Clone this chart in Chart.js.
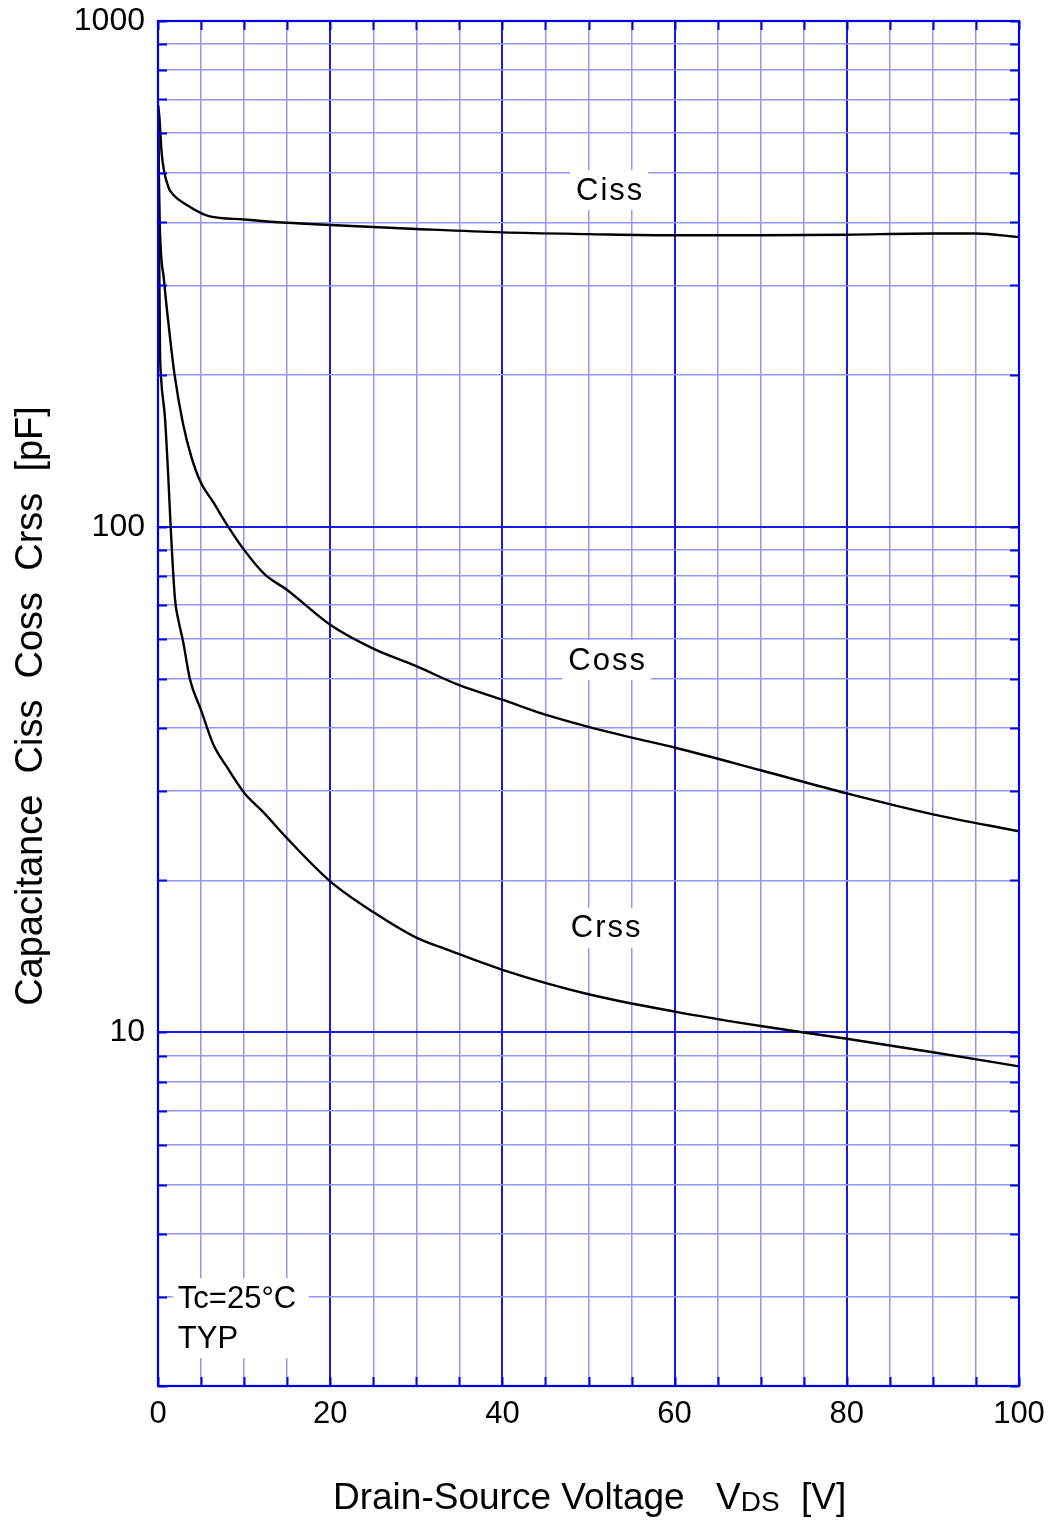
<!DOCTYPE html>
<html>
<head>
<meta charset="utf-8">
<script src="https://cdn.jsdelivr.net/npm/chart.js@4.4.1/dist/chart.umd.min.js"></script>
<style>
html,body{margin:0;padding:0;background:#fff;}
canvas{display:block;}
</style>
</head>
<body>
<canvas id="c" width="1050" height="1522" style="width:1050px;height:1522px"></canvas>
<script>
// ---- data ----
const cissV = [0, 0.15, 0.43, 1.2, 1.8, 3.3, 5, 6, 10, 15, 20, 30, 40, 50, 60, 70, 80, 90, 95, 100];
const cissC = [680, 650, 547, 470, 453, 433, 417, 411, 405, 399, 395, 388, 382, 379, 377, 377, 378, 380, 380, 374];

const cossV = [0, 0.1, 0.2, 0.7, 1.3, 1.9, 2.9, 3.9, 5, 6.4, 8, 10, 12.4, 15, 20, 25, 30, 35, 40, 45, 50, 55, 60, 70, 80, 90, 100];
const cossC = [680, 500, 398, 307, 245, 201, 160, 137, 122, 112, 101, 90, 80.5, 75, 64, 57.4, 53, 48.6, 45.5, 42.5, 40.2, 38.3, 36.6, 33, 29.7, 27, 25];

const crssV = [0, 0.1, 0.23, 0.35, 0.8, 1.2, 1.47, 1.97, 2.4, 2.94, 3.7, 5, 6.4, 8, 10, 12.2, 15, 20, 25, 30, 33.5, 40, 50, 60, 70, 75, 80, 90, 100];
const crssC = [680, 420, 225, 198, 165, 125, 100, 72, 65, 59, 50, 43.4, 37.2, 33.5, 29.8, 27.3, 24.2, 19.9, 17.3, 15.4, 14.6, 13.3, 11.9, 11.0, 10.3, 10.0, 9.72, 9.14, 8.57];

const xTicks = [0,5,10,15,20,25,30,35,40,45,50,55,60,65,70,75,80,85,90,95,100];
const xLabelTicks = [0,20,40,60,80,100];
const yTicks = [2,3,4,5,6,7,8,9,10,20,30,40,50,60,70,80,90,100,200,300,400,500,600,700,800,900,1000];
const yLabelTicks = [10,100,1000];

const curveNames = ['Ciss','Coss','Crss'];
const curveLabelV = [52.4, 52.1, 52.0];
const curveLabelC = [463, 54.5, 16.1];

const noteLines = ['Tc=25\u00B0C','TYP'];
const noteV = 2.3;
const noteC = 2.85;

const xTitle = ['Drain-Source Voltage', 'V', 'DS', '[V]'];
const yTitle = 'Capacitance  Ciss  Coss  Crss  [pF]';

// ---- styles ----
const FONT = '"Liberation Sans", Arial, Helvetica, sans-serif';
const MAJOR = '#1a1ae6';
const MINOR = '#9696f2';

function pts(xs, ys){ return xs.map((x,i)=>({x:x, y:ys[i]})); }
function ds(xs, ys){
  return {data: pts(xs,ys), borderColor:'#000', borderWidth:2.4, pointRadius:0,
          showLine:true, fill:false, cubicInterpolationMode:'monotone'};
}

const overlay = {
  id:'overlay',
  afterDatasetsDraw(chart){
    const c = chart.ctx, a = chart.chartArea;
    const xs = chart.scales.x, ys = chart.scales.y;
    c.save();
    // frame
    c.strokeStyle = '#0000e6'; c.lineWidth = 2.2;
    c.strokeRect(a.left, a.top, a.right-a.left, a.bottom-a.top);
    // inner ticks
    c.lineWidth = 2;
    c.beginPath();
    yTicks.forEach(v=>{
      const y = Math.round(ys.getPixelForValue(v))+0.5;
      c.moveTo(a.left, y); c.lineTo(a.left+9, y);
      c.moveTo(a.right, y); c.lineTo(a.right-9, y);
    });
    xTicks.forEach(v=>{
      const x = Math.round(xs.getPixelForValue(v))+0.5;
      c.moveTo(x, a.bottom); c.lineTo(x, a.bottom-9);
      c.moveTo(x, a.top); c.lineTo(x, a.top+9);
    });
    c.stroke();

    // curve labels
    c.font = '31px ' + FONT;
    c.fillStyle = '#000';
    c.textBaseline = 'middle'; c.textAlign = 'center';
    try { c.letterSpacing = '2px'; } catch(e){}
    curveNames.forEach((t,i)=>{
      const x = xs.getPixelForValue(curveLabelV[i]);
      const y = ys.getPixelForValue(curveLabelC[i]);
      const w = c.measureText(t).width + 10;
      c.fillStyle = '#fff';
      c.fillRect(x - w/2, y - 20, w, 40);
      c.fillStyle = '#000';
      c.fillText(t, x + 1, y + 1);
    });
    try { c.letterSpacing = '0px'; } catch(e){}

    // note box
    const nx = xs.getPixelForValue(noteV);
    const ny = ys.getPixelForValue(noteC);
    c.textAlign = 'left'; c.textBaseline = 'alphabetic';
    c.fillStyle = '#fff';
    c.fillRect(nx - 5, ny - 30, 136, 80);
    c.fillStyle = '#000';
    noteLines.forEach((t,i)=>{ c.fillText(t, nx, ny + i*40); });

    // x title with subscript
    const big = '37px ' + FONT, small = '28px ' + FONT;
    const by = 1509;
    c.textAlign = 'left';
    c.font = big; c.fillText(xTitle[0], 333, by);
    c.fillText(xTitle[1], 716, by);
    const wv = c.measureText(xTitle[1]).width;
    c.font = small; c.fillText(xTitle[2], 716 + wv, by + 2);
    c.font = big; c.fillText(xTitle[3], 801, by);

    // y title
    c.save();
    c.translate(42, 706);
    c.rotate(-Math.PI/2);
    c.textAlign = 'center'; c.textBaseline = 'alphabetic';
    c.font = '38px ' + FONT;
    c.fillText(yTitle, 0, 0);
    c.restore();

    c.restore();
  }
};

new Chart(document.getElementById('c'), {
  type:'scatter',
  data:{ datasets:[ ds(cissV,cissC), ds(cossV,cossC), ds(crssV,crssC) ] },
  options:{
    responsive:false, animation:false, devicePixelRatio:1,
    layout:{padding:{left:0, top:21, right:31, bottom:0}},
    plugins:{legend:{display:false}, tooltip:{enabled:false}},
    elements:{line:{borderCapStyle:'round', borderJoinStyle:'round'}},
    scales:{
      x:{
        type:'linear', min:0, max:100,
        afterBuildTicks:(s)=>{ s.ticks = xTicks.map(v=>({value:v})); },
        afterFit:(s)=>{ s.height = 1522 - 1386; s.paddingLeft = 0; s.paddingRight = 0; },
        ticks:{ autoSkip:false, maxRotation:0, padding:10, color:'#000',
                font:{family:FONT, size:31},
                callback:(v)=> xLabelTicks.includes(v) ? String(v) : '' },
        grid:{ drawTicks:false,
               color:(ctx)=> xLabelTicks.includes(ctx.tick.value) ? MAJOR : MINOR,
               lineWidth:(ctx)=> xLabelTicks.includes(ctx.tick.value) ? 2 : 1.5 },
        border:{display:false}
      },
      y:{
        type:'logarithmic', min:2, max:1000,
        afterBuildTicks:(s)=>{ s.ticks = yTicks.map(v=>({value:v})); },
        afterFit:(s)=>{ s.width = 158; s.paddingTop = 0; s.paddingBottom = 0; },
        ticks:{ autoSkip:false, padding:13, color:'#000',
                font:{family:FONT, size:32},
                callback:(v)=> yLabelTicks.includes(v) ? String(v) : '' },
        grid:{ drawTicks:false,
               color:(ctx)=> yLabelTicks.includes(ctx.tick.value) ? MAJOR : MINOR,
               lineWidth:(ctx)=> yLabelTicks.includes(ctx.tick.value) ? 2 : 1.5 },
        border:{display:false}
      }
    }
  },
  plugins:[overlay]
});
</script>
</body>
</html>
